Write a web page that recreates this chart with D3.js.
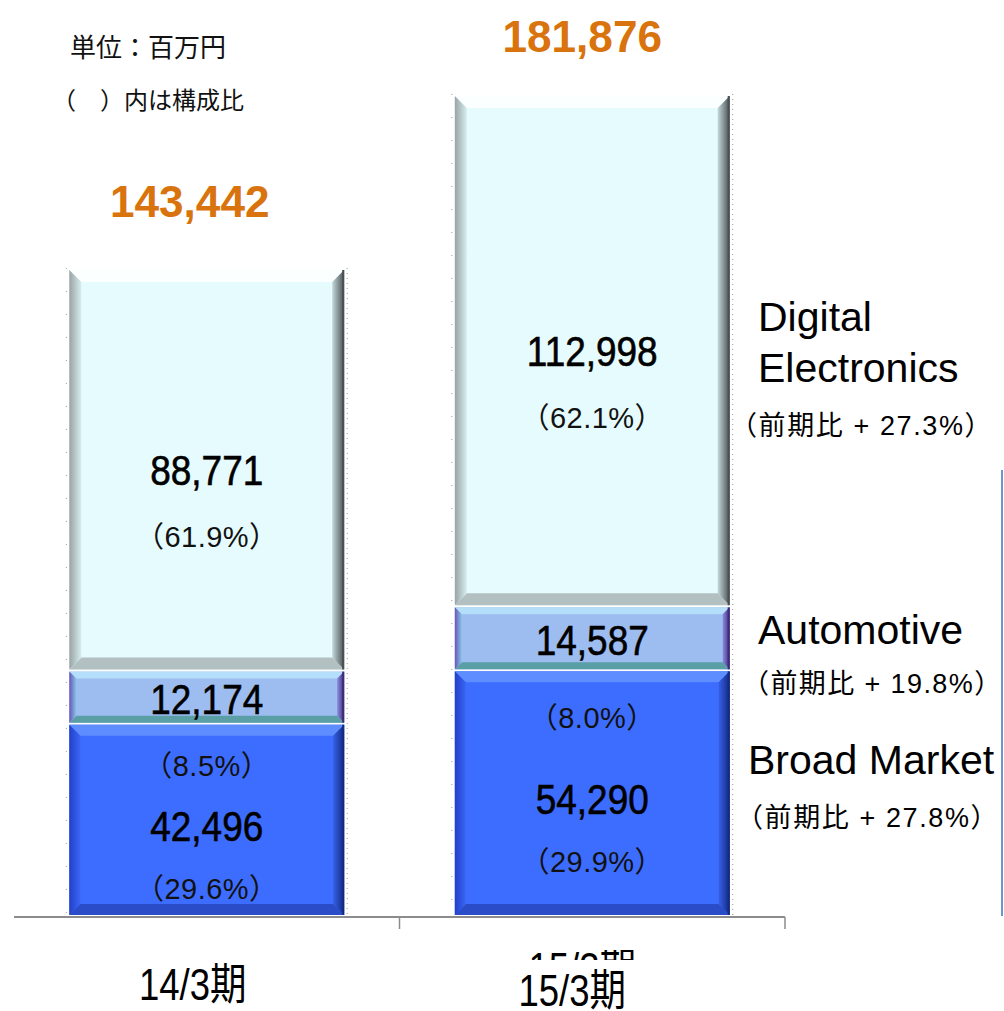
<!DOCTYPE html>
<html>
<head>
<meta charset="utf-8">
<script src="https://cdn.jsdelivr.net/npm/d3@7"></script>
<style>
  body { margin: 0; background: #fff; }
  text { font-family: "Liberation Sans", Arial, "Noto Sans CJK JP", sans-serif; }
</style>
</head>
<body>
<svg id="chart" width="1004" height="1011"></svg>
<script>
// data
var categories = ["14/3期", "15/3期"];
var seriesKeys = ["bm", "auto", "de"];
var seriesNames = ["Broad Market", "Automotive", "Digital Electronics"];
var broadMarket = [42496, 54290];
var automotive = [12174, 14587];
var digitalElectronics = [88771, 112998];
var totals = [143442, 181876];
var bmShare = ["29.6%", "29.9%"];
var autoShare = ["8.5%", "8.0%"];
var deShare = ["61.9%", "62.1%"];
var growth = ["+ 27.8%", "+ 19.8%", "+ 27.3%"];

var fmt = d3.format(",");

var table = categories.map(function(c, i){
	return {cat: c, bm: broadMarket[i], auto: automotive[i], de: digitalElectronics[i]};
});

var svg = d3.select("#chart");

var x = d3.scaleBand()
	.domain(categories)
	.range([14, 785])
	.paddingInner(0.287)
	.paddingOuter(0.1435);

var y = d3.scaleLinear()
	.domain([0, 200000])
	.range([917, 12]);

var stack = d3.stack().keys(seriesKeys)(table);

// bevel colours: fill, top, bottom, left(outer,inner), right(inner,outer)
var looks = {
	de:   {fill: "#e6fbfe", top: "#fbffff", bottom: "#b3c0c1", l0: "#9aa2a4", l1: "#d6eef0", r0: "#c4dadc", r1: "#4a4f52", b: 12},
	auto: {fill: "#9dbdf0", top: "#b5defa", bottom: "#5a9fa6", l0: "#6a54b8", l1: "#86c6e8", r0: "#8a8ee0", r1: "#402a7a", b: 7},
	bm:   {fill: "#3d6dff", top: "#5d8dff", bottom: "#2a4cc8", l0: "#2240c8", l1: "#3a66f4", r0: "#3560e8", r1: "#142a80", b: 11}
};

var defs = svg.append("defs");
seriesKeys.forEach(function(k){
	var lk = looks[k];
	var gl = defs.append("linearGradient").attr("id", "gl-" + k).attr("x1", 0).attr("x2", 1).attr("y1", 0).attr("y2", 0);
	gl.append("stop").attr("offset", 0).attr("stop-color", lk.l0);
	gl.append("stop").attr("offset", 1).attr("stop-color", lk.l1);
	var gr = defs.append("linearGradient").attr("id", "gr-" + k).attr("x1", 0).attr("x2", 1).attr("y1", 0).attr("y2", 0);
	gr.append("stop").attr("offset", 0).attr("stop-color", lk.r0);
	gr.append("stop").attr("offset", 1).attr("stop-color", lk.r1);
});

function poly(pts){ return pts.map(function(p){ return p.join(","); }).join(" "); }

stack.forEach(function(layer, li){
	var k = layer.key;
	var lk = looks[k];
	var g = svg.append("g").attr("class", "layer-" + k);
	layer.forEach(function(d){
		var x0 = x(d.data.cat), x1 = x0 + x.bandwidth();
		var y0 = y(d[1]) + (li > 0 ? 2 : 0);
		var y1 = y(d[0]) - (li < stack.length - 1 ? 2 : 0);
		var b = lk.b;
		g.append("rect").attr("x", x0).attr("y", y0).attr("width", x1 - x0).attr("height", y1 - y0).attr("fill", lk.fill);
		g.append("polygon").attr("points", poly([[x0,y0],[x1,y0],[x1-b,y0+b],[x0+b,y0+b]])).attr("fill", lk.top);
		g.append("polygon").attr("points", poly([[x0,y1],[x1,y1],[x1-b,y1-b],[x0+b,y1-b]])).attr("fill", lk.bottom);
		g.append("polygon").attr("points", poly([[x0,y0],[x0+b,y0+b],[x0+b,y1-b],[x0,y1]])).attr("fill", "url(#gl-" + k + ")");
		g.append("polygon").attr("points", poly([[x1,y0],[x1-b,y0+b],[x1-b,y1-b],[x1,y1]])).attr("fill", "url(#gr-" + k + ")");
		g.append("line").attr("x1", x1 - 1).attr("x2", x1 - 1).attr("y1", y0).attr("y2", y1)
			.attr("stroke", lk.r1).attr("stroke-width", 2);
	});
});

// dotted edge marks next to bars
categories.forEach(function(c, i){
	svg.append("line")
		.attr("x1", x(c) + x.bandwidth() + 3).attr("x2", x(c) + x.bandwidth() + 3)
		.attr("y1", y(totals[i])).attr("y2", y(0))
		.attr("stroke", "#999").attr("stroke-dasharray", "1,4");
	svg.append("line")
		.attr("x1", x(c) - 3).attr("x2", x(c) - 3)
		.attr("y1", y(totals[i])).attr("y2", y(0))
		.attr("stroke", "#999").attr("stroke-dasharray", "1,22");
});

// axis line and ticks at band boundaries
var axisG = svg.append("g");
axisG.append("line").attr("x1", 14).attr("x2", 785).attr("y1", y(0)).attr("y2", y(0))
	.attr("stroke", "#8c8c8c").attr("stroke-width", 2);
categories.forEach(function(c){
	var tx = x(c) + x.bandwidth() + x.step() * x.paddingInner() / 2;
	axisG.append("line").attr("x1", tx).attr("x2", tx).attr("y1", y(0)).attr("y2", y(0) + 12)
		.attr("stroke", "#8c8c8c").attr("stroke-width", 1.5);
});

// narrow text helper
function narrow(sel, sx){
	return sel.attr("transform", function(d){ return "translate(" + d.x + "," + d.y + ") scale(" + sx + ",1)"; });
}

// labels inside bars
function cx(i){ return x(categories[i]) + x.bandwidth() / 2; }
var valueLabels = [];
var pctLabels = [];
categories.forEach(function(c, i){
	var s = stack;
	valueLabels.push({x: cx(i), y: (y(s[2][i][0]) + y(s[2][i][1])) / 2 + 16, t: fmt(digitalElectronics[i])});
	pctLabels.push({x: cx(i), y: (y(s[2][i][0]) + y(s[2][i][1])) / 2 + 78, t: "（" + deShare[i] + "）"});
	valueLabels.push({x: cx(i), y: (y(s[1][i][0]) + y(s[1][i][1])) / 2 + 17, t: fmt(automotive[i])});
	pctLabels.push({x: cx(i), y: y(s[1][i][0]) + 51 + i * 6, t: "（" + autoShare[i] + "）"});
	valueLabels.push({x: cx(i), y: (y(s[0][i][0]) + y(s[0][i][1])) / 2 + 20, t: fmt(broadMarket[i])});
	pctLabels.push({x: cx(i), y: (y(s[0][i][0]) + y(s[0][i][1])) / 2 + 78, t: "（" + bmShare[i] + "）"});
});

narrow(svg.selectAll("text.val")
	.data(valueLabels)
	.enter()
	.append("text")
	.attr("class", "val")
	.attr("text-anchor", "middle")
	.attr("font-size", "42px")
	.attr("fill", "#000")
	.attr("stroke", "#000").attr("stroke-width", 0.6)
	.text(function(d){ return d.t; }), 0.88);

narrow(svg.selectAll("text.pct")
	.data(pctLabels)
	.enter()
	.append("text")
	.attr("class", "pct")
	.attr("text-anchor", "middle")
	.attr("font-size", "29px")
	.attr("letter-spacing", "0.5px")
	.attr("fill", "#111")
	.text(function(d){ return d.t; }), 1);

// totals
var totalLabels = totals.map(function(d, i){
	return {x: cx(i) - 17 + i * 7, y: y(d) - 51 + i * 9, t: fmt(d)};
});
narrow(svg.selectAll("text.total")
	.data(totalLabels)
	.enter()
	.append("text")
	.attr("class", "total")
	.attr("text-anchor", "middle")
	.attr("font-size", "45px")
	.attr("font-weight", "bold")
	.attr("fill", "#d9730d")
	.text(function(d){ return d.t; }), 0.98);

// category labels
var catLabels = categories.map(function(d, i){
	return {x: cx(i) - 14 - i * 6, y: 1000 + i * 6, t: d};
});
narrow(svg.selectAll("text.cat")
	.data(catLabels)
	.enter()
	.append("text")
	.attr("class", "cat")
	.attr("text-anchor", "middle")
	.attr("font-size", "44px")
	.attr("fill", "#000")
	.text(function(d){ return d.t; }), 0.83);

// clipped duplicate of the second category label
defs.append("clipPath").attr("id", "cut").append("rect")
	.attr("x", 500).attr("y", 950).attr("width", 200).attr("height", 10);
svg.append("g").attr("clip-path", "url(#cut)")
	.append("text")
	.attr("transform", "translate(" + (cx(1) - 10) + ",984) scale(0.83,1)")
	.attr("text-anchor", "middle")
	.attr("font-size", "44px")
	.attr("fill", "#000")
	.text(categories[1]);

// unit notes
svg.append("text").attr("x", 70).attr("y", 57).attr("font-size", "26px").attr("fill", "#111").text("単位：百万円");
svg.append("text").attr("x", 52).attr("y", 109).attr("font-size", "24px").attr("fill", "#111").text("（　）内は構成比");

// series names on the right
var names = [
	{t: "Digital", x: 758, y: 331, s: 41, ls: 0},
	{t: "Electronics", x: 758, y: 382, s: 41, ls: 0},
	{t: "（前期比 " + growth[2] + "）", x: 730, y: 435, s: 27, ls: 1.6},
	{t: seriesNames[1], x: 758, y: 644, s: 41, ls: 0},
	{t: "（前期比 " + growth[1] + "）", x: 742, y: 693, s: 27, ls: 1.4},
	{t: seriesNames[0], x: 748, y: 774, s: 41, ls: 0},
	{t: "（前期比 " + growth[0] + "）", x: 736, y: 827, s: 27, ls: 1.6}
];
svg.selectAll("text.name")
	.data(names)
	.enter()
	.append("text")
	.attr("class", "name")
	.attr("x", function(d){ return d.x; })
	.attr("y", function(d){ return d.y; })
	.attr("font-size", function(d){ return d.s + "px"; })
	.attr("letter-spacing", function(d){ return d.ls + "px"; })
	.attr("fill", "#000")
	.text(function(d){ return d.t; });

// frame edge at far right
svg.append("line").attr("x1", 1002).attr("x2", 1002).attr("y1", 470).attr("y2", 916)
	.attr("stroke", "#6f95d0").attr("stroke-width", 2);
</script>
</body>
</html>
